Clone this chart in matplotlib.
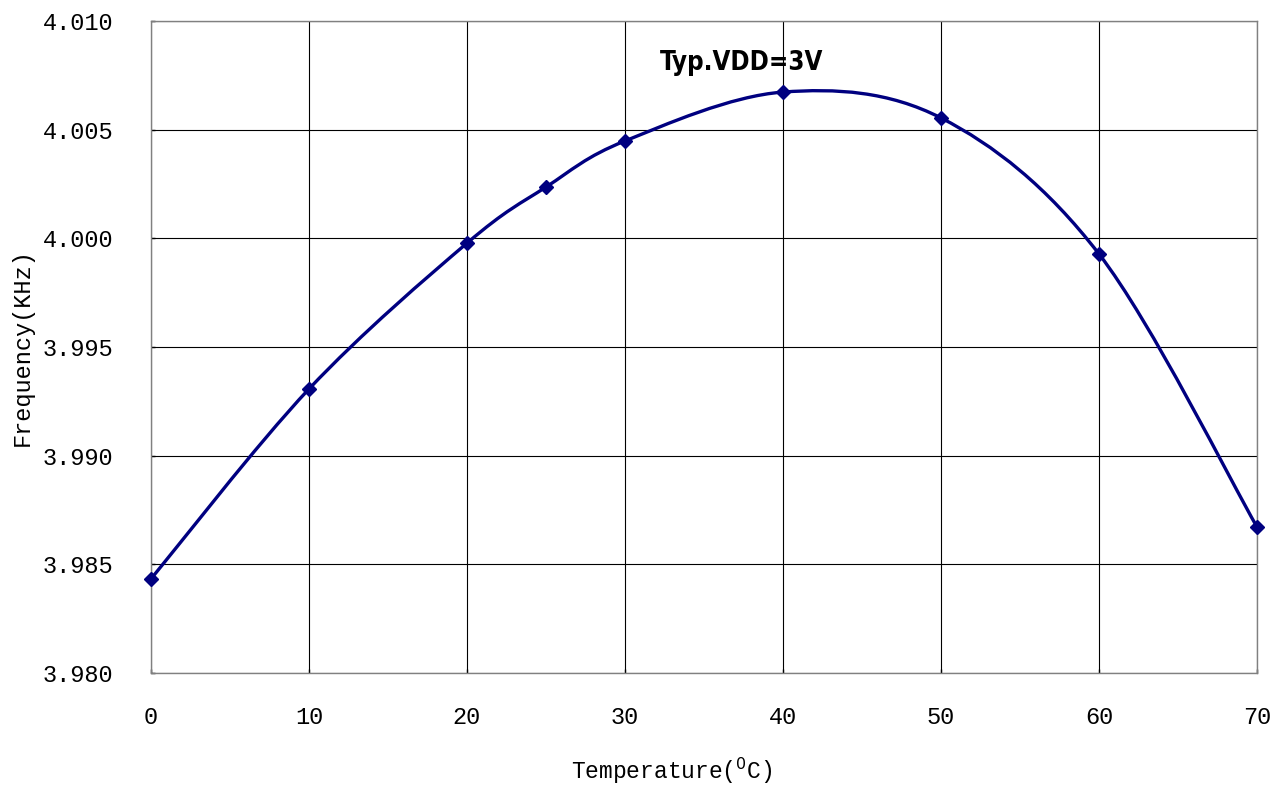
import numpy as np
import matplotlib
matplotlib.use("Agg")
import matplotlib.pyplot as plt
from matplotlib.path import Path
from matplotlib.patches import PathPatch

# data
temps = [0, 10, 20, 25, 30, 40, 50, 60, 70]
freqs = [3.98433, 3.99307, 3.99978, 4.00236, 4.00448, 4.00673, 4.00554, 3.99928, 3.98672]
x_ticks = [0, 10, 20, 30, 40, 50, 60, 70]
y_ticks = [3.980, 3.985, 3.990, 3.995, 4.000, 4.005, 4.010]

LINE = "#000080"
FONT = ["Liberation Mono", "DejaVu Sans Mono"]


def smooth_path(xs, ys):
    # Excel-style smoothed line: cubic Bezier, control points from neighbours
    pts = np.column_stack([xs, ys]).astype(float)
    n = len(pts)
    verts = [pts[0]]
    codes = [Path.MOVETO]
    for i in range(n - 1):
        p0 = pts[i - 1] if i > 0 else pts[i]
        p1 = pts[i]
        p2 = pts[i + 1]
        p3 = pts[i + 2] if i + 2 < n else pts[i + 1]
        c1 = p1 + (p2 - p0) / 6.0
        c2 = p2 - (p3 - p1) / 6.0
        verts += [c1, c2, p2]
        codes += [Path.CURVE4] * 3
    return Path(verts, codes)


fig = plt.figure(figsize=(12.81, 7.85), dpi=100)
ax = fig.add_axes([151 / 1281, 112 / 785, 1106 / 1281, 652 / 785])

ax.add_patch(PathPatch(smooth_path(temps, freqs), facecolor="none",
                       edgecolor=LINE, linewidth=2.4, zorder=3))
ax.plot(temps, freqs, linestyle="none", marker="D", markersize=7.5,
        color=LINE, zorder=4, clip_on=False)

ax.set_xlim(0, 70)
ax.set_ylim(3.980, 4.010)
ax.set_xticks(x_ticks)
ax.set_yticks(y_ticks)
ax.set_xticklabels([str(t) for t in x_ticks], fontfamily=FONT, fontsize=17)
ax.set_yticklabels([f"{v:.3f}" for v in y_ticks], fontfamily=FONT, fontsize=17)
ax.tick_params(direction="in", length=3, width=1, color="black")
ax.tick_params(axis="x", pad=24)
ax.tick_params(axis="y", pad=27)

ax.grid(True, color="black", linewidth=0.8)
ax.set_axisbelow(True)
for s in ax.spines.values():
    s.set_color("#808080")
    s.set_linewidth(1.0)

ax.set_xlabel("Temperature($^{0}$C)", fontfamily=FONT, fontsize=16.5)
ax.xaxis.set_label_coords(0.471, -0.127)
ax.set_ylabel("Frequency(KHz)", fontfamily=FONT, fontsize=17)
ax.yaxis.set_label_coords(-0.106, 0.5)

ax.text(0.460, 0.936, "Typ.VDD=3V", transform=ax.transAxes, ha="left",
        va="center", fontsize=18.5, fontweight="bold",
        fontfamily=["DejaVu Sans", "Liberation Sans"], fontstretch="condensed")

fig.savefig("out.png", dpi=100)
